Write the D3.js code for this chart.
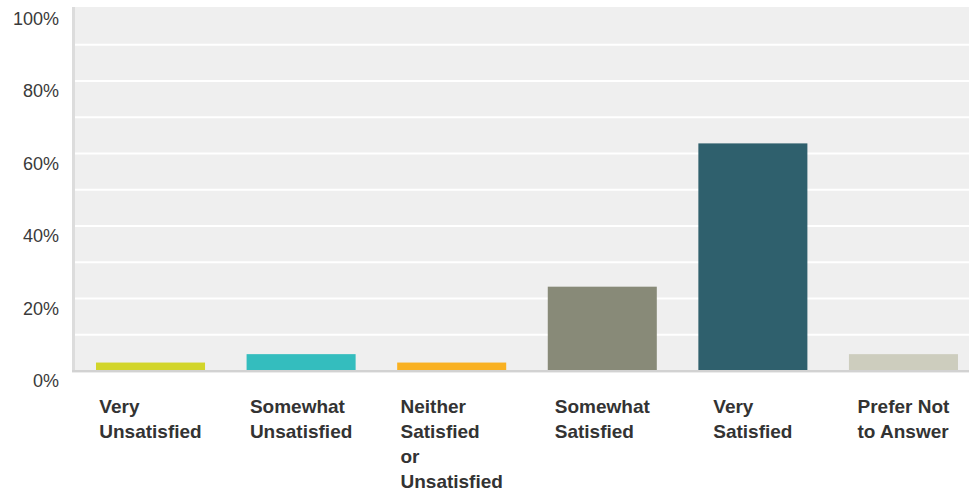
<!DOCTYPE html>
<html>
<head>
<meta charset="utf-8">
<script src="https://cdn.jsdelivr.net/npm/d3@7"></script>
<style>
  html, body { margin: 0; padding: 0; background: #fff; }
  svg { display: block; }
  text { font-family: "Liberation Sans", Arial, sans-serif; }
</style>
</head>
<body>
<svg id="chart" width="969" height="493"></svg>
<script>
const categories = [
  ["Very", "Unsatisfied"],
  ["Somewhat", "Unsatisfied"],
  ["Neither", "Satisfied", "or", "Unsatisfied"],
  ["Somewhat", "Satisfied"],
  ["Very", "Satisfied"],
  ["Prefer Not", "to Answer"]
];
const values = [2.33, 4.65, 2.33, 23.26, 62.79, 4.65];
const colors = ["#d2d52a", "#34bdbe", "#f9b122", "#888a78", "#2f606d", "#cdcdbe"];
const yTickLabels = [0, 20, 40, 60, 80, 100];
const gridValues = [10, 20, 30, 40, 50, 60, 70, 80, 90];

const svg = d3.select("#chart");
const plot = { left: 75, right: 969, top: 7, bottom: 371 };

const x = d3.scaleBand()
  .domain(d3.range(categories.length))
  .range([plot.left, 968])
  .paddingInner(0.276)
  .paddingOuter(0.103)
  .align(0.677);

const y = d3.scaleLinear().domain([0, 100]).range([plot.bottom, 8.5]);

// background
svg.append("rect")
  .attr("x", plot.left).attr("y", plot.top)
  .attr("width", plot.right - plot.left).attr("height", plot.bottom - plot.top)
  .attr("fill", "#efefef");

// gridlines
svg.append("g").selectAll("line").data(gridValues).join("line")
  .attr("x1", plot.left).attr("x2", plot.right)
  .attr("y1", d => y(d)).attr("y2", d => y(d))
  .attr("stroke", "#ffffff").attr("stroke-width", 2);

// bars
svg.append("g").selectAll("rect").data(values).join("rect")
  .attr("x", (d, i) => x(i))
  .attr("y", d => y(d))
  .attr("width", x.bandwidth())
  .attr("height", d => y(0) - y(d))
  .attr("fill", (d, i) => colors[i]);

// left axis line
svg.append("rect").attr("x", 72).attr("y", plot.top).attr("width", 3)
  .attr("height", plot.bottom - plot.top + 1).attr("fill", "#dcdcdc");
// bottom axis line
svg.append("rect").attr("x", 72).attr("y", 370).attr("width", plot.right - 72)
  .attr("height", 2).attr("fill", "#d2d2d2");
svg.append("rect").attr("x", 72).attr("y", 372).attr("width", plot.right - 72)
  .attr("height", 1).attr("fill", "#ececec");

// y labels
svg.append("g").selectAll("text").data(yTickLabels).join("text")
  .attr("x", 59)
  .attr("y", d => y(d) + 16)
  .attr("text-anchor", "end")
  .attr("font-size", 18)
  .attr("fill", "#3a3a3a")
  .text(d => d + "%");

// x labels
const lab = svg.append("g").selectAll("text").data(categories).join("text")
  .attr("font-size", 19)
  .attr("font-weight", "bold")
  .attr("fill", "#333333");
lab.each(function(lines, i) {
  const t = d3.select(this);
  lines.forEach((l, k) => {
    t.append("tspan").attr("y", 413 + k * 25).text(l);
  });
  let maxW = 0;
  t.selectAll("tspan").each(function() { maxW = Math.max(maxW, this.getComputedTextLength()); });
  const x0 = x(i) + x.bandwidth() / 2 - maxW / 2;
  t.selectAll("tspan").attr("x", x0);
});
</script>
</body>
</html>
